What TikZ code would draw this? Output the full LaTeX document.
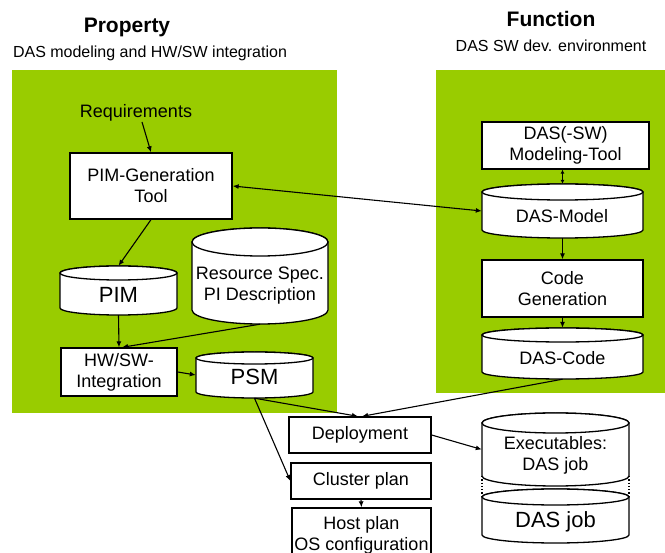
\documentclass[tikz,border=0pt]{standalone}
\usepackage{fontspec}
\setmainfont{Liberation Sans}
\usetikzlibrary{arrows.meta}
\definecolor{panelgreen}{HTML}{99CC00}

% cylinder (data store): name, left x, right x, top y, bottom y, ellipse half height
\newcommand\dbcyl[6]{%
  \pgfmathsetmacro\cylcx{(#2+#3)/2}%
  \pgfmathsetmacro\cylrx{(#3-#2)/2}%
  \pgfmathsetmacro\cylym{(#4+#5)/2}%
  \pgfmathsetmacro\cylhh{#5-#4}%
  \pgfmathsetmacro\cylww{#3-#2}%
  \node[inner sep=0pt, minimum width=\cylww pt, minimum height=\cylhh pt] (#1) at (\cylcx,\cylym) {};
  \draw[cyl] (#2,#4+#6) -- (#2,#5-#6)
     arc[start angle=180, end angle=360, x radius=\cylrx pt, y radius=#6 pt]
     -- (#3,#4+#6)
     arc[start angle=0, end angle=180, x radius=\cylrx pt, y radius=#6 pt] -- cycle;
  \draw[cyl] (\cylcx,#4+#6) ellipse[x radius=\cylrx pt, y radius=#6 pt];
}

\tikzset{
  txt/.style={font=\fontsize{18}{21}\selectfont, inner sep=0pt},
  panel/.style={fill=panelgreen, draw=none, inner sep=0pt},
  box/.style={draw=black, fill=white, line width=1.3pt, inner sep=0pt, align=center,
              font=\fontsize{18}{21}\selectfont},
  cyl/.style={draw=black, fill=white, line width=1.3pt},
  tip/.style={-{Latex[length=6pt,width=5pt]}},
  conn/.style={line width=1.1pt, tip},
  biconn/.style={line width=1.1pt, {Latex[length=6pt,width=5pt]}-{Latex[length=6pt,width=5pt]}},
  smallbi/.style={line width=1.1pt, {Latex[length=4pt,width=4pt]}-{Latex[length=4pt,width=4pt]}},
  title/.style={font=\bfseries\fontsize{21}{24}\selectfont, inner sep=0pt},
  subtitle/.style={font=\fontsize{16}{19}\selectfont, inner sep=0pt},
  big/.style={font=\fontsize{22}{26}\selectfont, inner sep=0pt},
}

\begin{document}
\begin{tikzpicture}[x=1pt, y=-1pt]
\useasboundingbox (0,0) rectangle (665,553);

% background panels
\node[panel, minimum width=325pt, minimum height=343pt] (leftpanel) at (174.5,241.5) {};
\node[panel, minimum width=229pt, minimum height=323pt] (rightpanel) at (550.5,231.5) {};

% headings
\node[title, anchor=base] (proptitle) at (127,33) {Property};
\node[subtitle, anchor=base] (propsub) at (150,58) {DAS modeling and HW/SW integration};
\node[title, anchor=base] (functitle) at (551,27) {Function};
\node[subtitle, anchor=base] (funcsub) at (551,52) {DAS SW dev. environment};

% property side
\node[txt, anchor=base] (req) at (136,118) {Requirements};
\node[box, minimum width=162pt, minimum height=66pt] (pimgen) at (151,186) {PIM-Generation\\Tool};
\dbcyl{pim}{60}{177}{266}{315}{7}
\node[big, anchor=base] (pimtxt) at (118.5,303) {PIM};
\dbcyl{res}{192}{328}{228}{324}{14}
\node[txt, align=center] (restxt) at (260,286) {Resource Spec.\\PI Description};
\node[box, minimum width=116pt, minimum height=48pt] (hwsw) at (119,372) {HW/SW-\\Integration};
\dbcyl{psm}{196}{313}{352}{398}{6}
\node[big, anchor=base] (psmtxt) at (254.5,385) {PSM};

% function side
\node[box, minimum width=167pt, minimum height=47pt] (dastool) at (565.5,145.5) {DAS(-SW)\\Modeling-Tool};
\dbcyl{dasmodel}{482}{643}{184}{238}{8}
\node[txt, anchor=base] (dasmodeltxt) at (562,223) {DAS-Model};
\node[box, minimum width=161pt, minimum height=57pt] (codegen) at (562.5,288.5) {Code\\Generation};
\dbcyl{dascode}{482}{643}{328}{379}{7}
\node[txt, anchor=base] (dascodetxt) at (562.5,365) {DAS-Code};

% deployment
\node[box, minimum width=142pt, minimum height=36pt] (deploy) at (360,435) {Deployment};
\node[box, minimum width=140pt, minimum height=36pt] (cluster) at (361,481) {Cluster plan};
\node[box, minimum width=139pt, minimum height=54pt] (host) at (361.5,535) {Host plan\\OS configuration};

% executables
\dbcyl{exelow}{482}{629}{489}{543}{8}
\draw[line width=1.3pt, dotted] (482,476) -- (482,497);
\draw[line width=1.3pt, dotted] (629,476) -- (629,497);
\dbcyl{exeup}{482}{629}{413}{486}{10}
\node[txt, align=center] (exetxt) at (555.5,455) {Executables:\\DAS job};
\node[big, anchor=base] (exelowtxt) at (555.5,528) {DAS job};

% connectors
\draw[conn] ([xshift=6pt]req.south) -- (pimgen.north);
\draw[biconn] (pimgen.east) -- (dasmodel.west);
\draw[smallbi] (dastool.south -| dasmodel.north) -- (dasmodel.north);
\draw[conn] (dasmodel.south) -- (codegen.north);
\draw[conn] (codegen.south) -- (dascode.north);
\draw[conn] (dascode.south) -- ([xshift=2pt]deploy.north);
\draw[conn] (pimgen.south) -- (pim.north);
\draw[conn] (pim.south) -- (hwsw.north);
\draw[conn] (res.south) -- ([xshift=3pt]hwsw.north);
\draw[conn] (hwsw.east) -- (psm.west);
\draw[conn] (psm.south) -- ([xshift=-2pt]deploy.north);
\draw[conn] (psm.south) -- (cluster.west);
\draw[conn] (cluster.south) -- (host.north);
\draw[conn] (deploy.east) -- (exeup.west);
\end{tikzpicture}
\end{document}
